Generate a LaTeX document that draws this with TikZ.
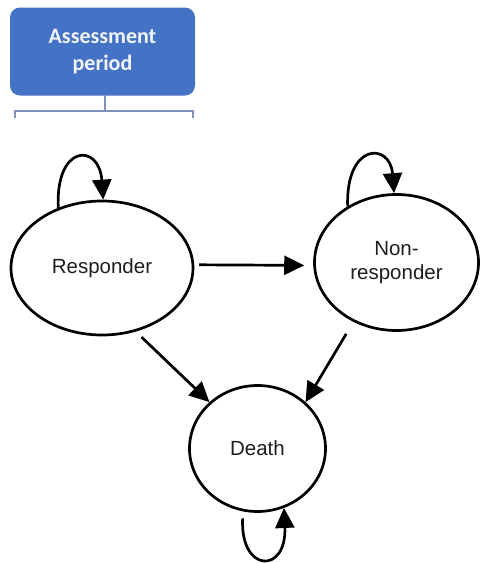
\documentclass[tikz,border=0pt]{standalone}
\usepackage{fontspec}
\setmainfont{Liberation Sans}
\newfontfamily\calib{Carlito}
\usetikzlibrary{shapes.geometric,arrows.meta}
\definecolor{boxblue}{RGB}{68,114,196}
\definecolor{brk}{RGB}{125,145,188}
\definecolor{txt}{RGB}{30,30,30}
\begin{document}
\begin{tikzpicture}[x=1pt,y=-1pt,
  state/.style={ellipse, draw, line width=2.7pt, inner sep=0pt, text=txt,
    font=\fontsize{20.5}{23.5}\selectfont, align=center},
  arr/.style={line width=2.7pt, -{Triangle[length=20pt,width=19pt]}},
  headbox/.style={fill=boxblue, rounded corners=10pt, minimum width=185pt,
    minimum height=88pt, inner sep=0pt, text={rgb,255:red,240;green,244;blue,252},
    font=\calib\bfseries\fontsize{22}{27}\selectfont, align=center},
  bracket/.style={draw=brk, line width=1.4pt}]
\useasboundingbox (0,0) rectangle (483,563);
\node[headbox] (A) at (102.5,51.5) {Assessment\\period};
\draw[bracket] (105,95) -- (105,111);
\draw[bracket] (15,118) -- (15,111) -- (193,111) -- (193,118);
\node[state, minimum width=182pt, minimum height=134pt] (R) at (102,268) {Responder};
\node[state, minimum width=164pt, minimum height=136pt] (N) at (396.5,262.5) {Non-\\responder};
\node[state, minimum width=136pt, minimum height=126pt] (D) at (257.5,448.5) {Death};
% self loops
\draw[arr] (R.126) .. controls +(-3,-64) and +(-4,-57) .. (R.89);
\draw[arr] (N.131) .. controls +(-2,-64) and +(-4,-51) .. (N.92);
\draw[arr, shorten <=7pt] (D.-103) .. controls +(-3,62) and +(3,66) .. (D.-66);
% transitions
\draw[arr, shorten <=5pt, shorten >=9pt] (R.2) -- (N.182);
\draw[arr, shorten <=8pt] (R.-62) -- (D.136);
\draw[arr, shorten <=14pt] (N.-126) -- (D.44);
\end{tikzpicture}
\end{document}
